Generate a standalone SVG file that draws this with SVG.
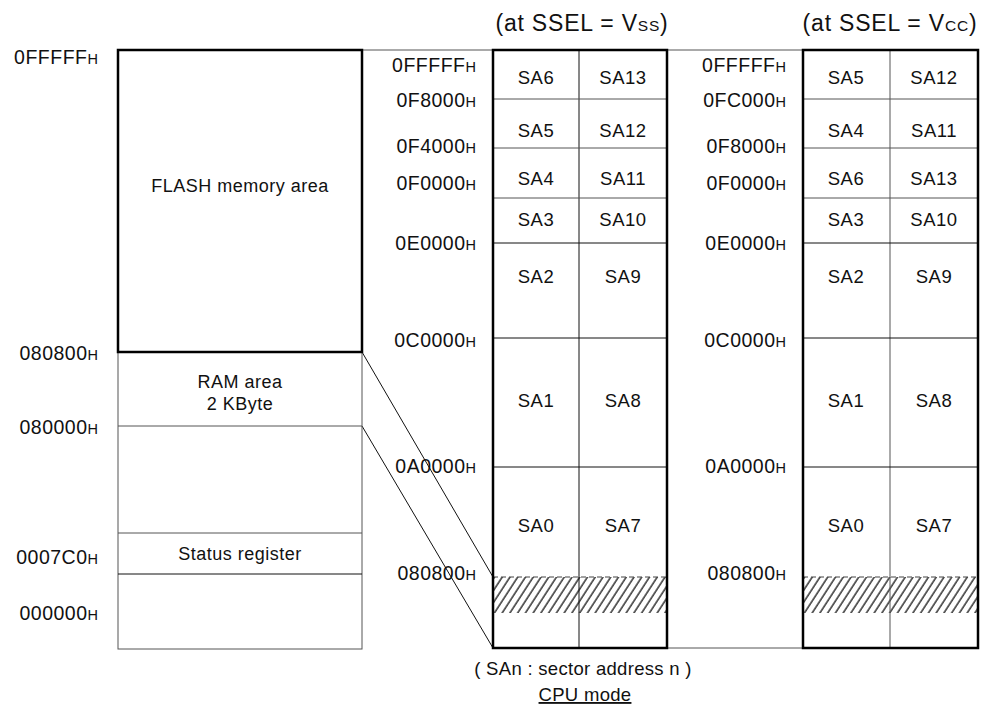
<svg xmlns="http://www.w3.org/2000/svg" width="987" height="707" viewBox="0 0 987 707">
<style>
text{font-family:"Liberation Sans",Arial,Helvetica,sans-serif;fill:#111}
.t{font-size:18px;letter-spacing:0.5px}
.c{font-size:18.5px;letter-spacing:0.5px;text-anchor:middle}
.a{font-size:19.5px;letter-spacing:0.5px;text-anchor:end}
.h{font-size:14.5px;letter-spacing:0}
.hd{font-size:23px;letter-spacing:0.8px;text-anchor:middle}
.sub{font-size:15.5px}
.thick{fill:none;stroke:#000;stroke-width:2.5}
.thin{fill:none;stroke:#111;stroke-width:1}
.gray{fill:none;stroke:#555;stroke-width:1}
.dash{fill:none;stroke:#444;stroke-width:1;stroke-dasharray:5 3}
</style>
<defs>
<pattern id="hatch" width="6.5" height="10" patternUnits="userSpaceOnUse" patternTransform="rotate(33)">
<line x1="1" y1="-1" x2="1" y2="11" stroke="#000" stroke-width="1.2"/>
</pattern>
</defs>
<rect width="987" height="707" fill="#fff"/>

<g id="headers">
<text class="hd" x="582" y="31">(at SSEL = V<tspan class="sub">SS</tspan>)</text>
<text class="hd" x="890" y="31">(at SSEL = V<tspan class="sub">CC</tspan>)</text>
</g>

<g id="connectors">
<line class="gray" x1="362" y1="50" x2="803" y2="50"/>
<line class="gray" x1="667" y1="648" x2="803" y2="648"/>
<line class="thin" x1="362" y1="352" x2="493" y2="577"/>
<line class="thin" x1="362" y1="426" x2="493" y2="648"/>
</g>

<g id="memory-map">
<rect class="gray" x="118" y="352" width="244" height="297"/>
<line class="gray" x1="118" y1="426" x2="362" y2="426"/>
<line class="gray" x1="118" y1="533" x2="362" y2="533"/>
<line class="thin" x1="118" y1="574" x2="362" y2="574"/>
<rect class="thick" x="118" y="50" width="244" height="302"/>
<text class="t" x="240" y="192" text-anchor="middle">FLASH memory area</text>
<text class="t" x="240" y="388" text-anchor="middle">RAM area</text>
<text class="t" x="240" y="410" text-anchor="middle">2 KByte</text>
<text class="t" x="240" y="560" text-anchor="middle">Status register</text>
<text class="a" x="98" y="64">0FFFFF<tspan class="h">H</tspan></text>
<text class="a" x="98" y="360">080800<tspan class="h">H</tspan></text>
<text class="a" x="98" y="434">080000<tspan class="h">H</tspan></text>
<text class="a" x="98" y="564">0007C0<tspan class="h">H</tspan></text>
<text class="a" x="98" y="620">000000<tspan class="h">H</tspan></text>
</g>

<g id="sectors-vss">
<rect x="493" y="577" width="174" height="36" fill="url(#hatch)"/>
<line class="dash" x1="493" y1="577" x2="667" y2="577"/>
<line class="thin" x1="579" y1="50" x2="579" y2="648"/>
<line class="gray" x1="493" y1="99" x2="667" y2="99"/>
<line class="gray" x1="493" y1="148" x2="667" y2="148"/>
<line class="gray" x1="493" y1="198" x2="667" y2="198"/>
<line class="thin" x1="493" y1="243" x2="667" y2="243"/>
<line class="thin" x1="493" y1="338" x2="667" y2="338"/>
<line class="thin" x1="493" y1="467" x2="667" y2="467"/>
<rect class="thick" x="493" y="50" width="174" height="598"/>
<text class="c" x="536" y="84">SA6</text><text class="c" x="623" y="84">SA13</text>
<text class="c" x="536" y="137">SA5</text><text class="c" x="623" y="137">SA12</text>
<text class="c" x="536" y="185">SA4</text><text class="c" x="623" y="185">SA11</text>
<text class="c" x="536" y="226">SA3</text><text class="c" x="623" y="226">SA10</text>
<text class="c" x="536" y="283">SA2</text><text class="c" x="623" y="283">SA9</text>
<text class="c" x="536" y="407">SA1</text><text class="c" x="623" y="407">SA8</text>
<text class="c" x="536" y="532">SA0</text><text class="c" x="623" y="532">SA7</text>
<text class="a" x="476" y="72">0FFFFF<tspan class="h">H</tspan></text>
<text class="a" x="476" y="107">0F8000<tspan class="h">H</tspan></text>
<text class="a" x="476" y="153">0F4000<tspan class="h">H</tspan></text>
<text class="a" x="476" y="190">0F0000<tspan class="h">H</tspan></text>
<text class="a" x="476" y="250">0E0000<tspan class="h">H</tspan></text>
<text class="a" x="476" y="347">0C0000<tspan class="h">H</tspan></text>
<text class="a" x="476" y="473">0A0000<tspan class="h">H</tspan></text>
<text class="a" x="476" y="580">080800<tspan class="h">H</tspan></text>
</g>

<g id="sectors-vcc">
<rect x="803" y="577" width="175" height="36" fill="url(#hatch)"/>
<line class="dash" x1="803" y1="577" x2="978" y2="577"/>
<line class="gray" x1="890" y1="50" x2="890" y2="648"/>
<line class="gray" x1="803" y1="99" x2="978" y2="99"/>
<line class="gray" x1="803" y1="148" x2="978" y2="148"/>
<line class="gray" x1="803" y1="198" x2="978" y2="198"/>
<line class="thin" x1="803" y1="243" x2="978" y2="243"/>
<line class="thin" x1="803" y1="338" x2="978" y2="338"/>
<line class="thin" x1="803" y1="467" x2="978" y2="467"/>
<rect class="thick" x="803" y="50" width="175" height="598"/>
<text class="c" x="846" y="84">SA5</text><text class="c" x="934" y="84">SA12</text>
<text class="c" x="846" y="137">SA4</text><text class="c" x="934" y="137">SA11</text>
<text class="c" x="846" y="185">SA6</text><text class="c" x="934" y="185">SA13</text>
<text class="c" x="846" y="226">SA3</text><text class="c" x="934" y="226">SA10</text>
<text class="c" x="846" y="283">SA2</text><text class="c" x="934" y="283">SA9</text>
<text class="c" x="846" y="407">SA1</text><text class="c" x="934" y="407">SA8</text>
<text class="c" x="846" y="532">SA0</text><text class="c" x="934" y="532">SA7</text>
<text class="a" x="786" y="72">0FFFFF<tspan class="h">H</tspan></text>
<text class="a" x="786" y="107">0FC000<tspan class="h">H</tspan></text>
<text class="a" x="786" y="153">0F8000<tspan class="h">H</tspan></text>
<text class="a" x="786" y="190">0F0000<tspan class="h">H</tspan></text>
<text class="a" x="786" y="250">0E0000<tspan class="h">H</tspan></text>
<text class="a" x="786" y="347">0C0000<tspan class="h">H</tspan></text>
<text class="a" x="786" y="473">0A0000<tspan class="h">H</tspan></text>
<text class="a" x="786" y="580">080800<tspan class="h">H</tspan></text>
</g>

<g id="legend">
<text class="t" x="583" y="675" text-anchor="middle" style="font-size:18.5px;letter-spacing:0.3px">( SAn : sector address n )</text>
<text class="t" x="585" y="701" text-anchor="middle" text-decoration="underline" style="font-size:18.5px;letter-spacing:0.3px">CPU mode</text>
</g>
</svg>
